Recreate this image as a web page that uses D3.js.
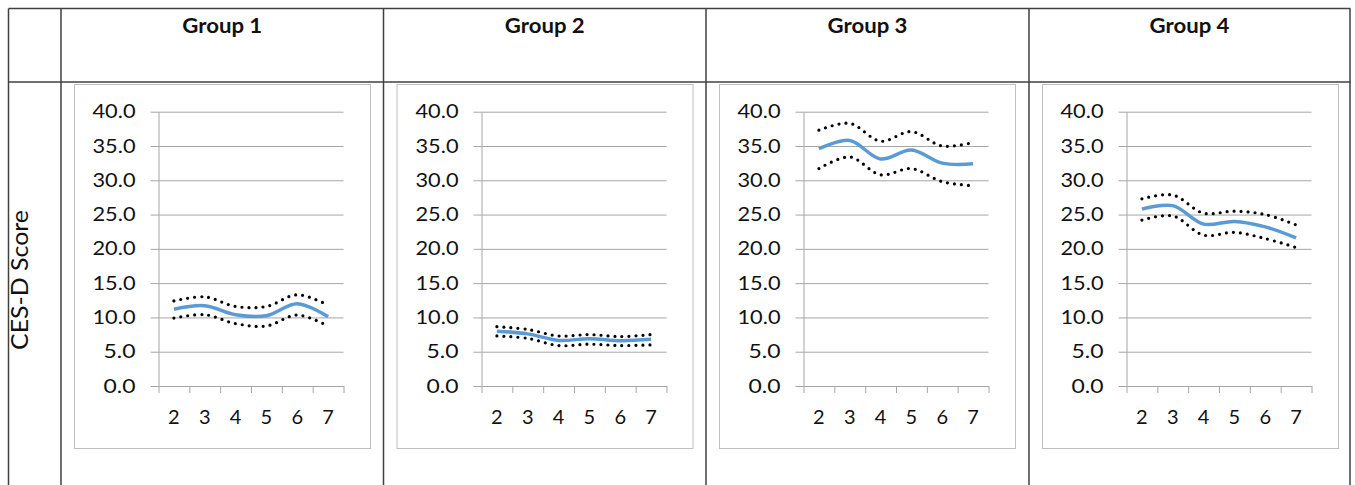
<!DOCTYPE html>
<html><head><meta charset="utf-8">
<script src="https://cdn.jsdelivr.net/npm/d3@7"></script>
<style>body{margin:0;background:#fff}svg{display:block}text{font-family:Lato,"Open Sans",sans-serif}</style>
</head><body><svg id="c" width="1355" height="485"></svg>
<script>
const groups = ["Group 1","Group 2","Group 3","Group 4"];
const waves = ["2","3","4","5","6","7"];
const yTicks = [0,5,10,15,20,25,30,35,40];
const yLabel = "CES-D Score";
const mean1 = [11.2,11.7,10.4,10.25,12.0,10.1];
const upper1 = [12.4,13.0,11.6,11.6,13.3,11.8];
const lower1 = [9.9,10.4,9.1,8.75,10.35,8.75];
const mean2 = [8.0,7.6,6.65,6.9,6.6,6.8];
const upper2 = [8.65,8.25,7.3,7.5,7.2,7.5];
const lower2 = [7.3,6.95,5.9,6.1,5.9,6.0];
const mean3 = [34.6,35.8,33.1,34.4,32.5,32.4];
const upper3 = [37.3,38.3,35.7,37.1,35.0,35.5];
const lower3 = [31.7,33.4,30.8,31.7,29.8,29.2];
const mean4 = [25.8,26.3,23.6,24.0,23.2,21.6];
const upper4 = [27.3,27.85,25.2,25.5,25.0,23.5];
const lower4 = [24.2,24.8,22.0,22.4,21.5,20.2];
const means = [mean1,mean2,mean3,mean4];
const uppers = [upper1,upper2,upper3,upper4];
const lowers = [lower1,lower2,lower3,lower4];

const svg = d3.select("#c");
const colX = [61,383.5,706,1029,1350];
const tableTop = 8.5, headerBottom = 82, tableLeft = 8.5;
const line = "#404040";

svg.append("line").attr("x1",tableLeft).attr("x2",1350.5).attr("y1",tableTop).attr("y2",tableTop).attr("stroke",line).attr("stroke-width",1.5);
svg.append("line").attr("x1",tableLeft).attr("x2",1350.5).attr("y1",headerBottom).attr("y2",headerBottom).attr("stroke",line).attr("stroke-width",1.5);
[tableLeft].concat(colX).forEach(x=>{
  svg.append("line").attr("x1",x).attr("x2",x).attr("y1",tableTop).attr("y2",485).attr("stroke",line).attr("stroke-width",1.5);
});
svg.append("text").attr("transform","translate(28,280) rotate(-90)").attr("text-anchor","middle")
  .attr("font-size",23).attr("fill","#111").attr("textLength",140).attr("lengthAdjust","spacingAndGlyphs").text(yLabel);

const y = d3.scaleLinear().domain([0,40]).range([386,111.7]);

groups.forEach((g,i)=>{
  const cl = colX[i];
  const cr = colX[i+1];
  svg.append("text").attr("x",(cl+cr)/2).attr("y",33).attr("text-anchor","middle")
    .attr("font-size",21).attr("font-weight","bold").attr("fill","#111")
    .attr("textLength",80).attr("lengthAdjust","spacingAndGlyphs").text(g);
  svg.append("rect").attr("x",cl+13.5).attr("y",84.5).attr("width",296).attr("height",364)
    .attr("fill","#fff").attr("stroke","#bfbfbf").attr("stroke-width",1);
  const ax0 = Math.round(cl+97)+0.5;
  const x = d3.scaleBand().domain(waves).range([ax0, ax0+185]).padding(0);
  const xi = d3.scaleLinear().domain([0,waves.length]).range([ax0, ax0+185]);
  const gp = svg.append("g");
  const grid = gp.append("g").attr("transform",`translate(${ax0},0)`)
    .call(d3.axisLeft(y).tickValues(yTicks).tickSize(-185).tickFormat(""));
  grid.select(".domain").remove();
  grid.selectAll("line").attr("stroke","#a6a6a6").attr("stroke-width",1);
  const ya = gp.append("g").attr("transform",`translate(${ax0},0)`)
    .call(d3.axisLeft(y).tickValues(yTicks).tickSize(8).tickSizeOuter(0).tickPadding(15).tickFormat(d3.format(".1f")));
  ya.select(".domain").attr("stroke","#a6a6a6");
  ya.selectAll("line").attr("stroke","#a6a6a6");
  ya.selectAll("text").attr("font-size",19).attr("fill","#111").attr("font-family","Lato")
    .attr("textLength",d=>d>=10?43:32).attr("lengthAdjust","spacingAndGlyphs");
  const xt = gp.append("g").attr("transform",`translate(0,${y(0)})`)
    .call(d3.axisBottom(xi).ticks(waves.length).tickSize(7).tickSizeOuter(0).tickFormat(""));
  xt.select(".domain").attr("stroke","#a6a6a6");
  xt.selectAll("line").attr("stroke","#a6a6a6");
  const xl = gp.append("g").attr("transform",`translate(0,${y(0)})`)
    .call(d3.axisBottom(x).tickSize(0).tickPadding(24));
  xl.select(".domain").remove();
  xl.selectAll("text").attr("font-size",20).attr("fill","#111").attr("font-family","Lato");

  const lg = d3.line().x((d,j)=>x(waves[j])+x.bandwidth()/2).y(d=>y(d)).curve(d3.curveCatmullRom.alpha(0.5));
  [uppers[i],lowers[i]].forEach(arr=>{
    gp.append("path").attr("d",lg(arr)).attr("fill","none").attr("stroke","#000")
      .attr("stroke-width",3.2).attr("stroke-linecap","round").attr("stroke-dasharray","0 7");
  });
  gp.append("path").attr("d",lg(means[i])).attr("fill","none").attr("stroke","#5b9bd5")
    .attr("stroke-width",3.5).attr("stroke-linecap","butt");
});
</script></body></html>
